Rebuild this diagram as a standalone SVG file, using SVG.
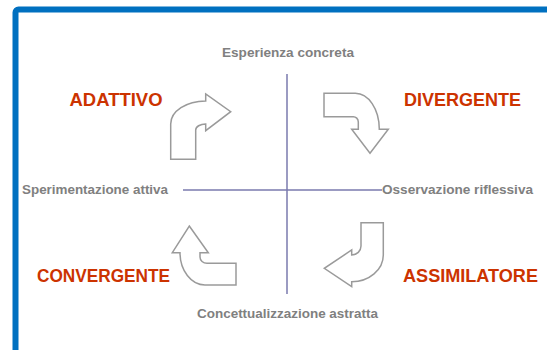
<svg xmlns="http://www.w3.org/2000/svg" width="547" height="350" viewBox="0 0 547 350">
<style>
.axis{fill:#808080;font-family:"Liberation Sans",Arial,sans-serif;font-size:12.5px;font-weight:bold}
.style{fill:#cc3300;font-family:"Liberation Sans",Arial,sans-serif;font-size:18px;font-weight:bold}
.arrow{fill:#ffffff;stroke:#9a9a9a;stroke-width:1.5;stroke-linejoin:miter}
.ax{stroke:#7a7aae;stroke-width:1.5}
</style>
<rect x="0" y="0" width="547" height="350" fill="#ffffff"/>
<rect x="15.5" y="9.5" width="600" height="400" rx="3" fill="none" stroke="#0070c0" stroke-width="6"/>
<g id="connectors">
<line class="ax" x1="287" y1="74" x2="287" y2="294"/>
<line class="ax" x1="183" y1="190" x2="382" y2="190"/>
</g>
<g id="axis-top"><text class="axis" x="222" y="57" textLength="132" lengthAdjust="spacingAndGlyphs">Esperienza concreta</text></g>
<g id="axis-left"><text class="axis" x="22" y="194" textLength="146" lengthAdjust="spacingAndGlyphs">Sperimentazione attiva</text></g>
<g id="axis-right"><text class="axis" x="382" y="194" textLength="151" lengthAdjust="spacingAndGlyphs">Osservazione riflessiva</text></g>
<g id="axis-bottom"><text class="axis" x="197" y="318" textLength="181" lengthAdjust="spacingAndGlyphs">Concettualizzazione astratta</text></g>
<g id="adattivo">
<text class="style" x="69.5" y="106" textLength="93" lengthAdjust="spacingAndGlyphs">ADATTIVO</text>
<path class="arrow" d="M170.7,159.3 L170.7,124 A35,23 0 0 1 205.7,101 L205.7,94 L230.7,111.7 L205.7,130.7 L205.7,124 A10,6 0 0 0 195.7,130 L195.7,159.3 Z"/>
</g>
<g id="divergente">
<text class="style" x="404" y="106" textLength="117" lengthAdjust="spacingAndGlyphs">DIVERGENTE</text>
<path class="arrow" d="M324,93.3 L355,93.3 A24,36 0 0 1 379.3,129.3 L388.3,129.3 L370,153.3 L351.7,129.3 L358.3,129.3 L358.3,122 A5,5.3 0 0 0 353,116.7 L324,116.7 Z"/>
</g>
<g id="convergente">
<text class="style" x="37" y="282" textLength="133" lengthAdjust="spacingAndGlyphs">CONVERGENTE</text>
<path class="arrow" d="M189.3,226 L208.3,252.7 L200,252.7 L200,257 A7,6.3 0 0 0 207,263.3 L236,263.3 L236,285 L205,285 A25,32.3 0 0 1 180,252.7 L172.3,252.7 Z"/>
</g>
<g id="assimilatore">
<text class="style" x="403" y="282" textLength="135" lengthAdjust="spacingAndGlyphs">ASSIMILATORE</text>
<path class="arrow" d="M361,222.7 L383.3,222.7 L383.3,255 A31.6,26.7 0 0 1 351.7,281.7 L351.7,286.7 L324.3,268.3 L351.7,250 L351.7,255 A9.3,9 0 0 0 361,246 Z"/>
</g>
</svg>
